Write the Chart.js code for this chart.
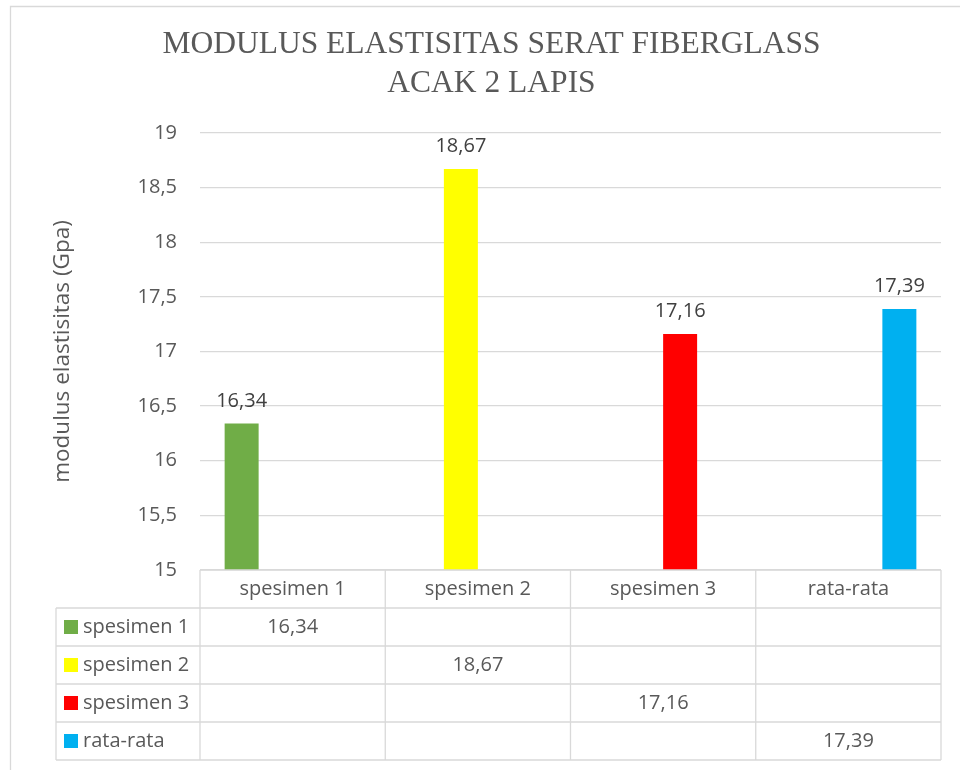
<!DOCTYPE html>
<html>
<head>
<meta charset="utf-8">
<script src="https://cdn.jsdelivr.net/npm/chart.js@4.4.1/dist/chart.umd.min.js"></script>
<style>
  html, body { margin: 0; padding: 0; background: #ffffff; }
  #wrap { position: relative; width: 960px; height: 770px; }
</style>
</head>
<body>
<div id="wrap"><canvas id="c" width="960" height="770"></canvas></div>
<script>
// ---- data ----
const chartTitle = ['MODULUS ELASTISITAS SERAT FIBERGLASS', 'ACAK 2 LAPIS'];
const yAxisTitle = 'modulus elastisitas (Gpa)';
const categories = ['spesimen 1', 'spesimen 2', 'spesimen 3', 'rata-rata'];
const seriesNames = ['spesimen 1', 'spesimen 2', 'spesimen 3', 'rata-rata'];
const spesimen1 = [16.34, null, null, null];
const spesimen2 = [null, 18.67, null, null];
const spesimen3 = [null, null, 17.16, null];
const rataRata  = [null, null, null, 17.39];
const yMin = 15, yMax = 19, yStep = 0.5;

// ---- styles ----
const seriesColors = ['#70ad47', '#ffff00', '#ff0000', '#00b0f0'];
const lineColor = '#d9d9d9';
const textColor = '#595959';
const labelColor = '#404040';
const sansFont = '"Open Sans", "Noto Sans", sans-serif';
const fmt = v => String(v).replace('.', ',');
const fmt2 = v => v.toFixed(2).replace('.', ',');

const seriesData = [spesimen1, spesimen2, spesimen3, rataRata];

const frameAndTable = {
  id: 'frameAndTable',
  beforeDraw(chart) {
    const ctx = chart.ctx;
    ctx.save();
    ctx.strokeStyle = lineColor;
    ctx.lineWidth = 1.3;
    ctx.beginPath();
    ctx.moveTo(10.5, 770); ctx.lineTo(10.5, 6.5); ctx.lineTo(960, 6.5);
    ctx.stroke();
    ctx.restore();
  },
  afterDatasetsDraw(chart) {
    const ctx = chart.ctx;
    // value labels above bars
    ctx.save();
    ctx.font = '20px ' + sansFont;
    ctx.fillStyle = labelColor;
    ctx.textAlign = 'center';
    ctx.textBaseline = 'alphabetic';
    chart.data.datasets.forEach((ds, di) => {
      const meta = chart.getDatasetMeta(di);
      meta.data.forEach((bar, i) => {
        const v = ds.data[i];
        if (v === null || v === undefined) return;
        ctx.fillText(fmt2(v), bar.x, bar.y - 17);
      });
    });
    ctx.restore();
  },
  afterDraw(chart) {
    const ctx = chart.ctx;
    const area = chart.chartArea;
    const xs = chart.scales.x;
    const n = categories.length;
    const colW = (area.right - area.left) / n;
    const rowH = 38;
    const top = area.bottom;
    const rows = seriesNames.length;
    const bottom = top + rowH * (rows + 1);
    const tableLeft = 56;
    ctx.save();
    ctx.strokeStyle = lineColor;
    ctx.lineWidth = 1.3;
    ctx.beginPath();
    // vertical lines
    for (let i = 0; i <= n; i++) {
      const x = xs.getPixelForValue(0) - colW / 2 + i * colW;
      ctx.moveTo(x, top); ctx.lineTo(x, bottom);
    }
    ctx.moveTo(tableLeft, top + rowH); ctx.lineTo(tableLeft, bottom);
    // horizontal lines
    ctx.moveTo(area.left, top); ctx.lineTo(area.right, top);
    for (let r = 1; r <= rows + 1; r++) {
      const y = top + r * rowH;
      ctx.moveTo(tableLeft, y); ctx.lineTo(area.right, y);
    }
    ctx.stroke();
    // row contents
    ctx.font = '20px ' + sansFont;
    ctx.textBaseline = 'middle';
    for (let r = 0; r < rows; r++) {
      const cy = top + (r + 1.5) * rowH;
      ctx.fillStyle = seriesColors[r];
      ctx.fillRect(64, cy - 7, 14, 14);
      ctx.fillStyle = textColor;
      ctx.textAlign = 'left';
      ctx.fillText(seriesNames[r], 83, cy);
      ctx.textAlign = 'center';
      seriesData[r].forEach((v, i) => {
        if (v === null) return;
        ctx.fillText(fmt2(v), xs.getPixelForValue(i), cy);
      });
    }
    ctx.restore();
  }
};

new Chart(document.getElementById('c'), {
  type: 'bar',
  data: {
    labels: categories,
    datasets: seriesNames.map((name, i) => ({
      label: name,
      data: seriesData[i],
      backgroundColor: seriesColors[i],
      borderWidth: 0,
      categoryPercentage: 0.734,
      barPercentage: 1.0
    }))
  },
  options: {
    responsive: false,
    animation: false,
    layout: { padding: { left: 42, right: 19, top: 0, bottom: 0 } },
    plugins: {
      legend: { display: false },
      tooltip: { enabled: false },
      title: {
        display: true,
        text: chartTitle,
        color: textColor,
        font: { family: '"Liberation Serif", "Times New Roman", serif', size: 31.5, weight: 'normal', lineHeight: 1.222 },
        padding: { top: 25.75, bottom: 30.25 }
      }
    },
    scales: {
      x: {
        grid: { display: false, drawTicks: false },
        border: { display: false },
        ticks: { color: textColor, font: { family: sansFont, size: 20 }, padding: 7 },
        afterFit(scale) { scale.height = 200; }
      },
      y: {
        min: yMin, max: yMax,
        grid: { color: lineColor, lineWidth: 1.3, drawTicks: false },
        border: { display: false },
        ticks: {
          stepSize: yStep,
          color: textColor,
          font: { family: sansFont, size: 20 },
          padding: 23,
          callback: v => fmt(v)
        },
        title: {
          display: true,
          text: yAxisTitle,
          color: textColor,
          font: { family: sansFont, size: 22.5 },
          padding: { top: 7, bottom: 0 }
        },
        afterFit(scale) { scale.width = 158; }
      }
    }
  },
  plugins: [frameAndTable]
});
</script>
</body>
</html>
